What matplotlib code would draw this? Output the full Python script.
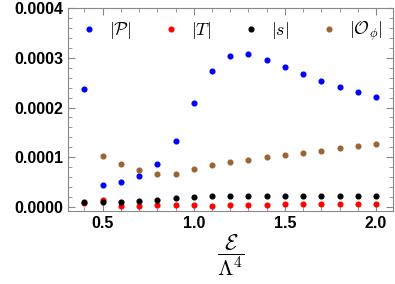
import matplotlib.pyplot as plt
from matplotlib.ticker import MultipleLocator

plt.rcParams['font.family'] = ['Liberation Sans', 'DejaVu Sans']
plt.rcParams['mathtext.fontset'] = 'cm'

# energy density E / Lambda^4
eps = [0.4, 0.5, 0.6, 0.7, 0.8, 0.9, 1.0, 1.1, 1.2, 1.3, 1.4, 1.5, 1.6, 1.7, 1.8, 1.9, 2.0]

P_abs = [0.000238, 0.000044, 0.000051, 0.000063, 0.000086, 0.000132, 0.000209, 0.000274, 0.000304,
         0.000307, 0.000296, 0.000281, 0.000267, 0.000253, 0.000241, 0.000231, 0.000221]
T_abs = [0.0000073, 0.0000133, 0.0000027, 0.0000027, 0.0000047, 0.0000047, 0.0000033, 0.0000027, 0.000004,
         0.0000047, 0.000005, 0.000006, 0.0000067, 0.0000067, 0.0000067, 0.0000067, 0.0000067]
s_abs = [0.0000093, 0.0000095, 0.0000107, 0.000012, 0.0000147, 0.0000187, 0.0000207, 0.000022, 0.000022,
         0.000022, 0.000022, 0.000022, 0.000022, 0.000022, 0.000022, 0.000022, 0.000022]
# O_phi nema točku na 0.4
eps_O = eps[1:]
O_abs = [0.000103, 0.000086, 0.0000747, 0.0000673, 0.0000673, 0.000076, 0.0000847, 0.0000907,
         0.0000953, 0.0001007, 0.000104, 0.0001087, 0.0001133, 0.000118, 0.000122, 0.0001267]

fig = plt.figure(figsize=(3.95, 2.84), dpi=100)
ax = fig.add_axes([68/395, 1 - 211/284, (393-68)/395, (211-8)/284])

ms = 3.4
ax.plot(eps, P_abs, 'o', color='#0000ff', ms=ms, label=r'$|\mathcal{P}|$')
ax.plot(eps, T_abs, 'o', color='#ff0000', ms=ms, label=r'$|T|$')
ax.plot(eps, s_abs, 'o', color='black', ms=ms, label=r'$|s|$')
ax.plot(eps_O, O_abs, 'o', color='#996633', ms=ms, label=r'$|\mathcal{O}_\phi|$')

ax.set_xlim(0.31, 2.093)
ax.set_ylim(-0.000008, 0.0004)
ax.xaxis.set_major_locator(MultipleLocator(0.5))
ax.xaxis.set_minor_locator(MultipleLocator(0.1))
ax.yaxis.set_major_locator(MultipleLocator(0.0001))
ax.yaxis.set_minor_locator(MultipleLocator(0.00002))
ax.yaxis.set_major_formatter(plt.FuncFormatter(lambda v, p: f'{v:.4f}'))

ax.tick_params(which='both', direction='in', top=True, right=True, color='#888888')
ax.tick_params(which='major', length=5, labelsize=11.5)
ax.tick_params(which='minor', length=3)
for l in ax.get_xticklabels() + ax.get_yticklabels():
    l.set_fontweight('bold')
for sp in ax.spines.values():
    sp.set_color('#888888')

ax.set_xlabel(r'$\dfrac{\mathcal{E}}{\Lambda^4}$', fontsize=16, labelpad=1)

ax.legend(loc='upper center', ncol=4, frameon=False, fontsize=13, handletextpad=0.5,
          columnspacing=1.6, markerscale=1.0, bbox_to_anchor=(0.5, 1.02), handlelength=1.2)

plt.savefig('out.png', dpi=100)
